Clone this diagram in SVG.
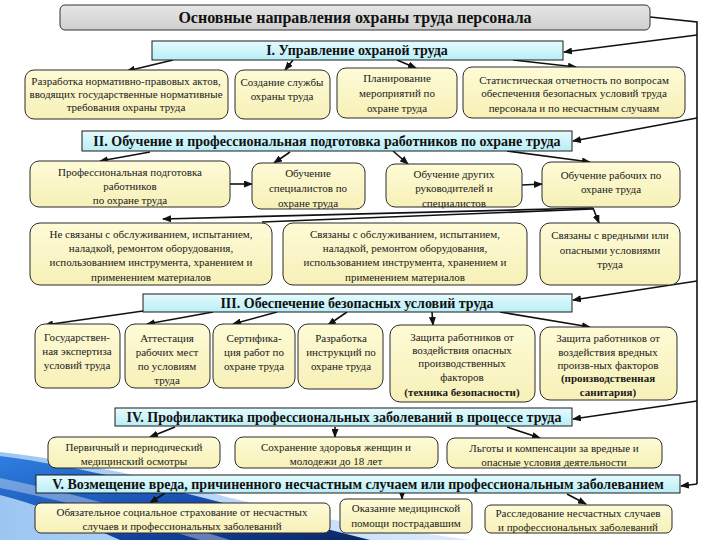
<svg xmlns="http://www.w3.org/2000/svg" width="720" height="540" viewBox="0 0 720 540">
<defs>
<style>
.node{fill:url(#yel);stroke:#2a2a2a;stroke-width:1}
.hdr{fill:url(#cyan);stroke:#1a1a1a;stroke-width:1}
.t{font-family:"Liberation Serif","DejaVu Serif",serif;font-size:11px;fill:#1a1a1a;text-anchor:middle}
.b{font-weight:bold}
.h{font-family:"Liberation Serif","DejaVu Serif",serif;font-size:14px;font-weight:bold;fill:#111;text-anchor:middle}
.c{stroke:#111;stroke-width:1.6;fill:none}
.a{marker-end:url(#arr)}
</style>
<marker id="arr" markerWidth="9" markerHeight="7" refX="8" refY="3.5" orient="auto" markerUnits="userSpaceOnUse">
<path d="M0,0 L9,3.5 L0,7 Z" fill="#111"/>
</marker>
<linearGradient id="yel" x1="0" y1="0" x2="0" y2="1">
<stop offset="0" stop-color="#fefbd6"/>
<stop offset="1" stop-color="#f7f0b8"/>
</linearGradient>
<linearGradient id="cyan" x1="0" y1="0" x2="0" y2="1">
<stop offset="0" stop-color="#e4fbfe"/>
<stop offset="1" stop-color="#b9eef6"/>
</linearGradient>
<linearGradient id="gray" x1="0" y1="0" x2="0" y2="1">
<stop offset="0" stop-color="#e6e6e6"/>
<stop offset="1" stop-color="#cfcfcf"/>
</linearGradient>
<linearGradient id="sw1" x1="0" y1="0" x2="1" y2="1">
<stop offset="0" stop-color="#2f7fe0"/>
<stop offset="0.6" stop-color="#1548a8"/>
<stop offset="1" stop-color="#0a2560"/>
</linearGradient>
<linearGradient id="sw2" x1="0" y1="0" x2="1" y2="0">
<stop offset="0" stop-color="#9cc6f2"/>
<stop offset="1" stop-color="#dcebfb"/>
</linearGradient>
</defs>
<rect width="720" height="540" fill="#ffffff"/>
<g id="background">
<path d="M0,452 C90,462 200,490 300,515 L470,540 L0,540 Z" fill="url(#sw2)"/>
<path d="M0,456 C80,466 180,492 260,512 L370,540 L120,540 C80,522 40,505 0,495 Z" fill="url(#sw1)"/>
<path d="M0,478 C60,490 140,512 230,540 L200,540 C130,518 60,500 0,488 Z" fill="#ffffff" opacity="0.35"/>
</g>
<g id="connectors">
<polyline class="c" points="650,17 697,22 697,484"/>
<line class="c a" x1="697" y1="484" x2="681" y2="486"/>
<line class="c a" x1="697" y1="35" x2="564" y2="52"/>
<line class="c a" x1="697" y1="118" x2="573" y2="141"/>
<line class="c a" x1="697" y1="281" x2="573" y2="300"/>
<line class="c a" x1="697" y1="401" x2="573" y2="419"/>
<line class="c a" x1="173" y1="60" x2="127" y2="71"/>
<line class="c a" x1="293" y1="60" x2="285" y2="70"/>
<line class="c a" x1="397" y1="60" x2="416" y2="68"/>
<line class="c a" x1="513" y1="60" x2="576" y2="67"/>
<line class="c a" x1="150" y1="152" x2="100" y2="161"/>
<line class="c a" x1="290" y1="152" x2="274" y2="163"/>
<line class="c a" x1="393" y1="151" x2="408" y2="164"/>
<line class="c a" x1="507" y1="151" x2="590" y2="162"/>
<line class="c a" x1="230" y1="184" x2="252" y2="184"/>
<line class="c a" x1="522" y1="185" x2="542" y2="184"/>
<line class="c a" x1="593" y1="208" x2="163" y2="219"/>
<line class="c" x1="593" y1="209" x2="262" y2="222"/>
<line class="c a" x1="593" y1="208" x2="599" y2="223"/>
<line class="c a" x1="143" y1="311" x2="45" y2="325"/>
<line class="c a" x1="213" y1="312" x2="147" y2="324"/>
<line class="c a" x1="277" y1="312" x2="233" y2="324"/>
<line class="c a" x1="347" y1="312" x2="328" y2="325"/>
<line class="c a" x1="432" y1="312" x2="433" y2="325"/>
<line class="c a" x1="500" y1="312" x2="590" y2="327"/>
<line class="c a" x1="175" y1="427" x2="150" y2="437"/>
<line class="c a" x1="335" y1="427" x2="335" y2="437"/>
<line class="c a" x1="507" y1="427" x2="540" y2="438"/>
<line class="c a" x1="165" y1="493" x2="150" y2="503"/>
<line class="c a" x1="402" y1="493" x2="402" y2="499"/>
<line class="c a" x1="567" y1="494" x2="586" y2="504"/>
</g>
<g id="title">
<rect x="60" y="5" width="590" height="25" rx="5" fill="url(#gray)" stroke="#333" stroke-width="1"/>
<text class="h" x="355" y="23" style="font-size:16px">Основные направления охраны труда персонала</text>
</g>
<g id="h1">
<rect class="hdr" x="152" y="41" width="411" height="19"/>
<text class="h" x="357" y="55">I. Управление охраной труда</text>
</g>
<g id="n1a">
<rect class="node" x="25" y="70" width="203" height="49" rx="9"/>
<text class="t" x="126" y="85">Разработка нормативно-правовых актов,</text>
<text class="t" x="126" y="98">вводящих государственные нормативные</text>
<text class="t" x="126" y="111">требования  охраны труда</text>
</g>
<g id="n1b">
<rect class="node" x="235" y="70" width="95" height="49" rx="9"/>
<text class="t" x="282" y="86">Создание службы</text>
<text class="t" x="282" y="100">охраны труда</text>
</g>
<g id="n1c">
<rect class="node" x="337" y="68" width="120" height="50" rx="9"/>
<text class="t" x="397" y="82">Планирование</text>
<text class="t" x="397" y="97">мероприятий по</text>
<text class="t" x="397" y="112">охране труда</text>
</g>
<g id="n1d">
<rect class="node" x="463" y="67" width="222" height="51" rx="9"/>
<text class="t" x="574" y="84">Статистическая отчетность по вопросам</text>
<text class="t" x="574" y="97">обеспечения безопасных условий  труда</text>
<text class="t" x="574" y="112">персонала и по несчастным случаям</text>
</g>
<g id="h2">
<rect class="hdr" x="82" y="131" width="490" height="20"/>
<text class="h" x="327" y="146">II. Обучение и профессиональная подготовка работников по охране труда</text>
</g>
<g id="n2a">
<rect class="node" x="30" y="161" width="200" height="46" rx="9"/>
<text class="t" x="130" y="176">Профессиональная подготовка</text>
<text class="t" x="130" y="190">работников</text>
<text class="t" x="130" y="204">по охране труда</text>
</g>
<g id="n2b">
<rect class="node" x="252" y="163" width="113" height="46" rx="9"/>
<text class="t" x="308" y="177">Обучение</text>
<text class="t" x="308" y="192">специалистов по</text>
<text class="t" x="308" y="207">охране труда</text>
</g>
<g id="n2c">
<rect class="node" x="386" y="164" width="136" height="43" rx="9"/>
<text class="t" x="454" y="178">Обучение других</text>
<text class="t" x="454" y="192">руководителей и</text>
<text class="t" x="454" y="207">специалистов</text>
</g>
<g id="n2d">
<rect class="node" x="542" y="162" width="138" height="45" rx="9"/>
<text class="t" x="611" y="179">Обучение рабочих  по</text>
<text class="t" x="611" y="193">охране труда</text>
</g>
<g id="n3a">
<rect class="node" x="30" y="223" width="242" height="62" rx="10"/>
<text class="t" x="151" y="238">Не связаны с обслуживанием, испытанием,</text>
<text class="t" x="151" y="252">наладкой, ремонтом оборудования,</text>
<text class="t" x="151" y="266">использованием инструмента, хранением и</text>
<text class="t" x="151" y="281">применением материалов</text>
</g>
<g id="n3b">
<rect class="node" x="283" y="223" width="244" height="62" rx="10"/>
<text class="t" x="405" y="238">Связаны с  обслуживанием, испытанием,</text>
<text class="t" x="405" y="252">наладкой, ремонтом оборудования,</text>
<text class="t" x="405" y="266">использованием инструмента, хранением и</text>
<text class="t" x="405" y="281">применением материалов</text>
</g>
<g id="n3c">
<rect class="node" x="540" y="223" width="140" height="62" rx="10"/>
<text class="t" x="610" y="239">Связаны с вредными или</text>
<text class="t" x="610" y="254">опасными условиями</text>
<text class="t" x="610" y="268">труда</text>
</g>
<g id="h3">
<rect class="hdr" x="143" y="294" width="429" height="18"/>
<text class="h" x="357" y="308">III. Обеспечение безопасных условий труда</text>
</g>
<g id="n4a">
<rect class="node" x="35" y="324" width="85" height="64" rx="10"/>
<text class="t" x="77" y="341">Государствен-</text>
<text class="t" x="77" y="355">ная экспертиза</text>
<text class="t" x="77" y="369">условий труда</text>
</g>
<g id="n4b">
<rect class="node" x="125" y="324" width="85" height="64" rx="10"/>
<text class="t" x="167" y="342">Аттестация</text>
<text class="t" x="167" y="356">рабочих мест</text>
<text class="t" x="167" y="370">по условиям</text>
<text class="t" x="167" y="384">труда</text>
</g>
<g id="n4c">
<rect class="node" x="213" y="324" width="82" height="64" rx="10"/>
<text class="t" x="254" y="342">Сертифика-</text>
<text class="t" x="254" y="356">ция работ по</text>
<text class="t" x="254" y="370">охране труда</text>
</g>
<g id="n4d">
<rect class="node" x="298" y="324" width="85" height="65" rx="10"/>
<text class="t" x="341" y="342">Разработка</text>
<text class="t" x="341" y="356">инструкций по</text>
<text class="t" x="341" y="370">охране труда</text>
</g>
<g id="n4e">
<rect class="node" x="390" y="325" width="145" height="77" rx="10"/>
<text class="t" x="462" y="341">Защита работников от</text>
<text class="t" x="462" y="354">воздействия  опасных</text>
<text class="t" x="462" y="367">производственных</text>
<text class="t" x="462" y="381">факторов</text>
<text class="t b" x="462" y="396">(техника безопасности)</text>
</g>
<g id="n4f">
<rect class="node" x="540" y="327" width="137" height="73" rx="10"/>
<text class="t" x="608" y="342">Защита работников от</text>
<text class="t" x="608" y="356">воздействия  вредных</text>
<text class="t" x="608" y="369">произв-ных факторов</text>
<text class="t b" x="608" y="382">(производственная</text>
<text class="t b" x="608" y="396">санитария)</text>
</g>
<g id="h4">
<rect class="hdr" x="115" y="408" width="457" height="18"/>
<text class="h" x="344" y="422">IV. Профилактика профессиональных заболеваний в процессе труда</text>
</g>
<g id="n5a">
<rect class="node" x="48" y="437" width="172" height="31" rx="8"/>
<text class="t" x="134" y="451">Первичный и периодический</text>
<text class="t" x="134" y="465">медицинский осмотры</text>
</g>
<g id="n5b">
<rect class="node" x="235" y="437" width="203" height="31" rx="8"/>
<text class="t" x="336" y="451">Сохранение здоровья женщин и</text>
<text class="t" x="336" y="465">молодежи до 18 лет</text>
</g>
<g id="n5c">
<rect class="node" x="447" y="438" width="215" height="30" rx="8"/>
<text class="t" x="554" y="452">Льготы и компенсации за вредные и</text>
<text class="t" x="554" y="466">опасные условия деятельности</text>
</g>
<g id="h5">
<rect class="hdr" x="36" y="475" width="644" height="18"/>
<text class="h" x="358" y="489">V. Возмещение вреда, причиненного несчастным случаем или профессиональным заболеванием</text>
</g>
<g id="n6a">
<rect class="node" x="35" y="503" width="295" height="30" rx="6"/>
<text class="t" x="182" y="516">Обязательное социальное страхование от несчастных</text>
<text class="t" x="182" y="530">случаев и профессиональных заболеваний</text>
</g>
<g id="n6b">
<rect class="node" x="340" y="499" width="132" height="34" rx="6"/>
<text class="t" x="406" y="512">Оказание медицинской</text>
<text class="t" x="406" y="527">помощи пострадавшим</text>
</g>
<g id="n6c">
<rect class="node" x="485" y="505" width="187" height="28" rx="6"/>
<text class="t" x="578" y="517">Расследование несчастных случаев</text>
<text class="t" x="578" y="531">и профессиональных заболеваний</text>
</g>
</svg>
